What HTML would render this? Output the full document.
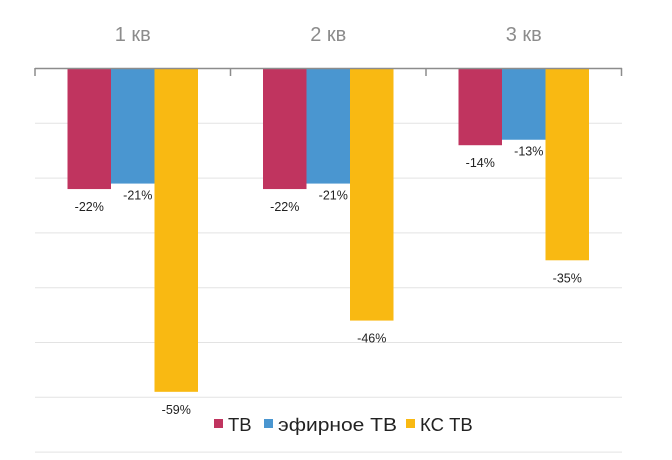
<!DOCTYPE html>
<html><head><meta charset="utf-8"><style>
body{margin:0;background:#fff;}
svg text{font-family:"Liberation Sans",sans-serif;}
</style></head><body>
<svg id="chart" width="672" height="455">
<g id="grid"></g>
<g id="bars"></g>
<g id="labels"></g>
<g id="cats"></g>
<line x1="35" y1="68.5" x2="622" y2="68.5" stroke="#8c8c8c" stroke-width="1.5"/>
<g>
<rect x="214" y="419" width="9" height="9" fill="#c0345f"/>
<text x="228" y="431" font-size="18.5" fill="#222">ТВ</text>
<rect x="264" y="419" width="9" height="9" fill="#4a96d0"/>
<text x="278" y="431" font-size="18.5" fill="#222" textLength="119" lengthAdjust="spacingAndGlyphs">эфирное ТВ</text>
<rect x="406" y="419" width="9" height="9" fill="#f9b912"/>
<text x="420" y="431" font-size="18.5" fill="#222">КС ТВ</text>
</g>
</svg>
<script>
const categories=["1 кв","2 кв","3 кв"];
const tv=[-22,-22,-14];
const airTv=[-21,-21,-13];
const ksTv=[-59,-46,-35];
const series=[tv,airTv,ksTv];
const colors=["#c0345f","#4a96d0","#f9b912"];
const gridTicks=[0,-10,-20,-30,-40,-50,-60,-70];
const NS="http://www.w3.org/2000/svg";
const x0=35,groupW=195.5,barW=43.5,zeroY=68.5,pxPer=5.48;
const y=v=>zeroY-v*pxPer;
function mk(t,a,p){const e=document.createElementNS(NS,t);for(const k in a)e.setAttribute(k,a[k]);document.getElementById(p).appendChild(e);return e;}
gridTicks.forEach(t=>{if(t===0)return;const yy=y(t);if(yy>455)return;
const l=mk("line",{x1:35,x2:622,y1:yy,y2:yy,stroke:"#e3e3e3","stroke-width":1},"grid");

});
[0,1,2,3].forEach(i=>{const l=mk("line",{x1:x0+i*groupW,x2:x0+i*groupW,y1:68,y2:76,stroke:"#8c8c8c","stroke-width":1.5},"grid");

});
categories.forEach((c,i)=>{
const cx=x0+i*groupW+groupW/2;
const t=mk("text",{x:cx,y:41,"text-anchor":"middle","font-size":20,fill:"#8c8c8c"},"cats");t.textContent=c;


series.forEach((s,j)=>{
const bx=cx-1.5*barW+j*barW;const v=s[i];
const r=mk("rect",{x:bx,y:zeroY,width:barW,height:y(v)-zeroY,fill:colors[j]},"bars");


const lbl=mk("text",{x:bx+barW/2+(j===1?5:0),y:y(v)+(j===1?16:22),"text-anchor":"middle","font-size":12.5,fill:"#222"},"labels");
lbl.textContent=v+"%";


});});
</script>
</body></html>
